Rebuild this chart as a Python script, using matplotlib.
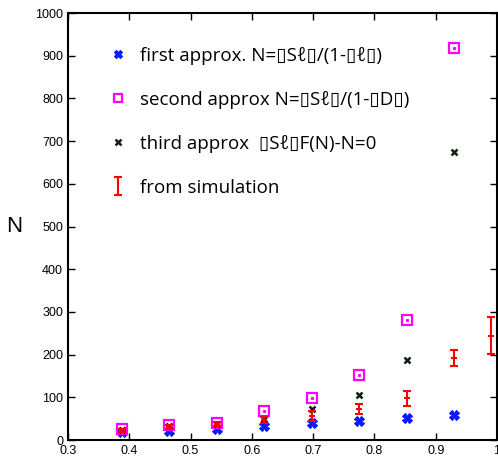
import matplotlib
matplotlib.use("Agg")
import matplotlib.pyplot as plt

x = [0.3875, 0.465, 0.5425, 0.62, 0.6975, 0.775, 0.8525, 0.93]
first = [18, 21, 26, 33, 39, 44, 51, 58]
second = [25, 36, 40, 68, 98, 152, 281, 917]
third = [24, 33, 38, 49, 72, 105, 187, 674]

x_sim = [0.3875, 0.465, 0.5425, 0.62, 0.6975, 0.775, 0.8525, 0.93, 0.99]
sim = [22, 30, 37, 47, 56, 72, 98, 193, 244]
sim_lo = [19, 26, 32, 40, 45, 60, 80, 173, 201]
sim_hi = [25, 34, 42, 55, 67, 85, 115, 211, 289]

lab1 = "first approx. N=\u25afS\u2113\u25af/(1-\u25af\u2113\u25af)"
lab2 = "second approx N=\u25afS\u2113\u25af/(1-\u25afD\u25af)"
lab3 = "third approx  \u25afS\u2113\u25afF(N)-N=0"
lab4 = "from simulation"

plt.rcParams['font.family'] = ['Liberation Sans', 'DejaVu Sans']

fig = plt.figure(figsize=(4.98, 4.58), dpi=100)
ax = fig.add_axes([0.1365, 0.0393, 0.8615, 0.9323])

h1, = ax.plot(x, first, ls='none', marker='X', color='#0a1aff', ms=6.5, mec='#0a1aff', mew=0.8)
h2, = ax.plot(x, second, ls='none', marker='s', mfc='none', mec='#ff00ff', ms=6.5, mew=1.6)
ax.plot(x, second, ls='none', marker='s', color='#ff00ff', ms=1.2)
h3, = ax.plot(x, third, ls='none', marker='x', color='#0a200a', ms=5, mew=1.8)
yerr = [[s - l for s, l in zip(sim, sim_lo)], [h - s for s, h in zip(sim, sim_hi)]]
h4 = ax.errorbar(x_sim, sim, yerr=yerr, fmt='none', ecolor='#ff0000', elinewidth=1.5,
                 capsize=3, capthick=1.5)
ax.plot(x_sim, sim, ls='none', marker='_', color='#ff0000', ms=5, mew=1.5)

ax.set_xlim(0.3, 1.0)
ax.set_ylim(0, 1000)
ax.set_xticks([0.3, 0.4, 0.5, 0.6, 0.7, 0.8, 0.9, 1.0])
ax.set_xticklabels(["0.3", "0.4", "0.5", "0.6", "0.7", "0.8", "0.9", "1"])
ax.set_yticks(range(0, 1001, 100))
ax.tick_params(direction='in', top=True, right=True, labelsize=9, length=5, width=1)
for s in ax.spines.values():
    s.set_linewidth(1.5)
ax.set_ylabel("N", fontsize=16, rotation=0, labelpad=15, va='center')

leg = ax.legend([h1, h2, h3, h4], [lab1, lab2, lab3, lab4], loc='upper left',
                bbox_to_anchor=(0.055, 0.96), frameon=False,
                prop={'family': ['Open Sans', 'DejaVu Sans'], 'size': 13.5},
                labelspacing=1.38, handlelength=1.0, handletextpad=0.7,
                markerscale=0.9)

fig.savefig("out.png", dpi=100)
